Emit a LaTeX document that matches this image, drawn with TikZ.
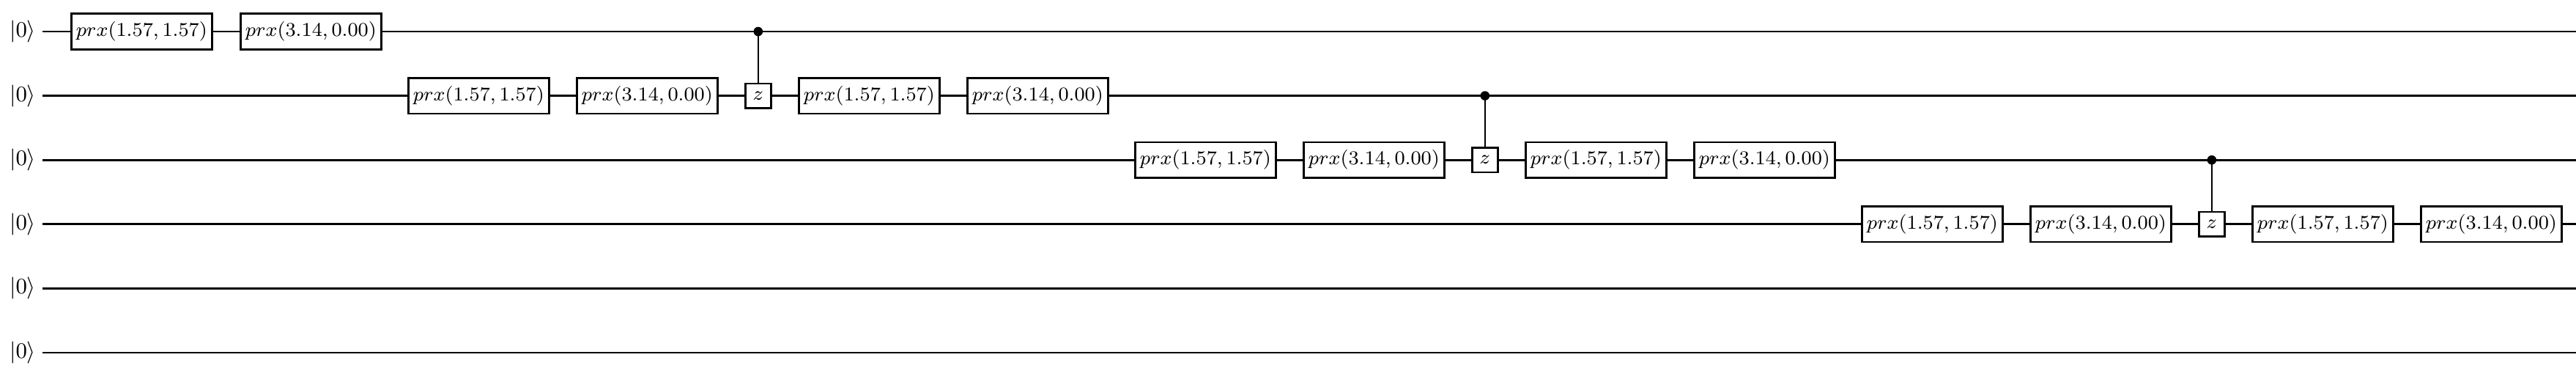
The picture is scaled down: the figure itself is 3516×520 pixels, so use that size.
\documentclass[tikz,border=0pt]{standalone}
\begin{document}
\begin{tikzpicture}[x=0.3pt,y=0.3pt,
  gate/.style={draw,fill=white,line width=0.8pt,minimum width=57.6pt,minimum height=14.6pt,inner sep=0pt,anchor=west,font=\fontsize{8.1}{9}\selectfont},
  zgate/.style={draw,fill=white,line width=0.8pt,minimum width=10.5pt,minimum height=10pt,inner sep=0pt,anchor=west,font=\fontsize{8.1}{9}\selectfont},
  wire/.style={line width=0.8pt},
  ctrl/.style={circle,fill=black,inner sep=0pt,minimum size=3.8pt}]
\useasboundingbox (0,0) rectangle (3516,-520);
\foreach \i in {0,...,5}{
  \pgfmathsetmacro{\yy}{-(43+87.6*\i)}
  \node[font=\fontsize{9}{10}\selectfont] (l\i) at (31,\yy) {$|0\rangle$};
  \coordinate (e\i) at (3516,\yy);
  \draw[wire] (58,\yy) -- (e\i);
}
\def\A{prx(1.57, 1.57)}
\def\B{prx(3.14, 0.00)}
% row 0
\node[gate] (g0a) at (96,-43) {$\A$};
\node[gate] (g0b) at (327,-43) {$\B$};
% row 1
\node[gate] (g1a) at (556,-130.6) {$\A$};
\node[gate] (g1b) at (786,-130.6) {$\B$};
\node[zgate] (z1) at (1016,-130.6) {$z$};
\node[gate] (g1c) at (1089,-130.6) {$\A$};
\node[gate] (g1d) at (1319,-130.6) {$\B$};
% row 2
\node[gate] (g2a) at (1548,-218.2) {$\A$};
\node[gate] (g2b) at (1778,-218.2) {$\B$};
\node[zgate] (z2) at (2008,-218.2) {$z$};
\node[gate] (g2c) at (2081,-218.2) {$\A$};
\node[gate] (g2d) at (2311,-218.2) {$\B$};
% row 3
\node[gate] (g3a) at (2540,-305.8) {$\A$};
\node[gate] (g3b) at (2770,-305.8) {$\B$};
\node[zgate] (z3) at (3000,-305.8) {$z$};
\node[gate] (g3c) at (3073,-305.8) {$\A$};
\node[gate] (g3d) at (3303,-305.8) {$\B$};
% controls
\node[ctrl] (c1) at (z1.center |- 0,-43) {};
\node[ctrl] (c2) at (z2.center |- 0,-130.6) {};
\node[ctrl] (c3) at (z3.center |- 0,-218.2) {};
\draw[wire] (c1.center) -- (z1.north);
\draw[wire] (c2.center) -- (z2.north);
\draw[wire] (c3.center) -- (z3.north);
\end{tikzpicture}
\end{document}
